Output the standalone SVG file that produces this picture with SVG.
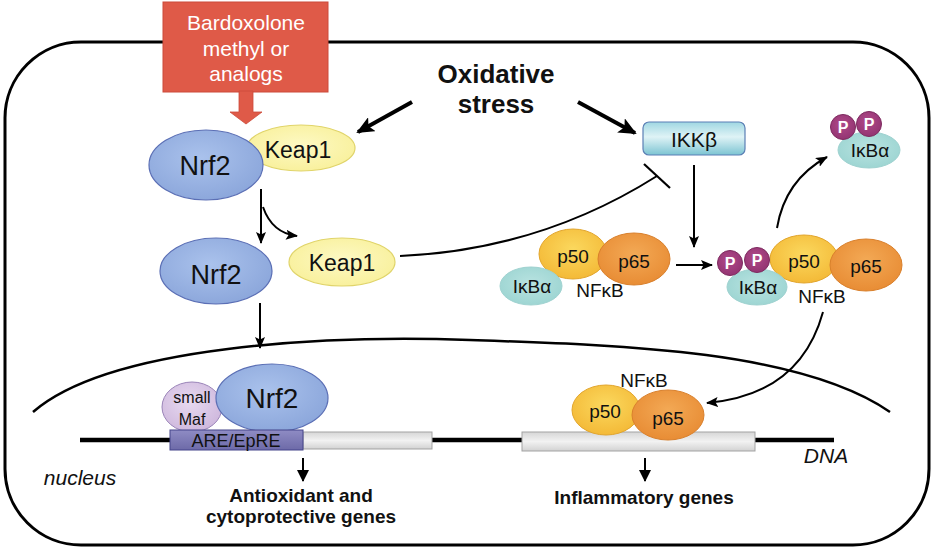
<svg xmlns="http://www.w3.org/2000/svg" width="936" height="550" viewBox="0 0 936 550">
<style>
text{font-family:"Liberation Sans",Arial,Helvetica,sans-serif;fill:#111;text-anchor:middle}
.b{font-weight:bold}
.it{font-style:italic}
.w{fill:#fff}
.ln{fill:none;stroke:#000;stroke-width:2}
.thick{fill:none;stroke:#000;stroke-width:4}
.nrf{fill:url(#gNrf);stroke:#5b6fb5;stroke-width:1.2}
.keap{fill:url(#gKeap);stroke:#e0d46a;stroke-width:1.2}
.p50{fill:url(#gP50);stroke:#e2a52c;stroke-width:1}
.p65{fill:url(#gP65);stroke:#d9802c;stroke-width:1}
.ikb{fill:url(#gIkb);stroke:#9fd2d0;stroke-width:1}
.ph{fill:url(#gPh);stroke:#7d2a5f;stroke-width:1}
.pt{font-weight:bold;font-size:16px;fill:#fff}
</style>
<defs>
<radialGradient id="gNrf" cx="0.45" cy="0.4" r="0.65"><stop offset="0" stop-color="#aac2ec"/><stop offset="1" stop-color="#8aa5da"/></radialGradient>
<radialGradient id="gKeap" cx="0.5" cy="0.45" r="0.65"><stop offset="0" stop-color="#fdf9c4"/><stop offset="1" stop-color="#f8ef96"/></radialGradient>
<radialGradient id="gP50" cx="0.5" cy="0.4" r="0.65"><stop offset="0" stop-color="#fbd85e"/><stop offset="1" stop-color="#f3b734"/></radialGradient>
<radialGradient id="gP65" cx="0.5" cy="0.4" r="0.65"><stop offset="0" stop-color="#f3a955"/><stop offset="1" stop-color="#e78a32"/></radialGradient>
<radialGradient id="gIkb" cx="0.5" cy="0.45" r="0.65"><stop offset="0" stop-color="#b9e3e1"/><stop offset="1" stop-color="#99d3d0"/></radialGradient>
<radialGradient id="gPh" cx="0.45" cy="0.4" r="0.6"><stop offset="0" stop-color="#b04a8a"/><stop offset="1" stop-color="#943472"/></radialGradient>
<radialGradient id="gMaf" cx="0.45" cy="0.4" r="0.65"><stop offset="0" stop-color="#e8daf0"/><stop offset="1" stop-color="#cdb6dc"/></radialGradient>
<linearGradient id="gIkk" x1="0" y1="0" x2="0" y2="1"><stop offset="0" stop-color="#9fd7e2"/><stop offset="0.45" stop-color="#dff3f6"/><stop offset="1" stop-color="#7cc4d2"/></linearGradient>
<linearGradient id="gAre" x1="0" y1="0" x2="0" y2="1"><stop offset="0" stop-color="#8f8cc4"/><stop offset="1" stop-color="#6d6aa8"/></linearGradient>
<linearGradient id="gGray" x1="0" y1="0" x2="0" y2="1"><stop offset="0" stop-color="#d6d6d6"/><stop offset="0.5" stop-color="#f2f2f2"/><stop offset="1" stop-color="#d2d2d2"/></linearGradient>
<marker id="mBig" viewBox="0 0 18 16" markerWidth="18" markerHeight="16" refX="16" refY="8" orient="auto" markerUnits="userSpaceOnUse"><path d="M0,0 L18,8 L0,16 L4,8 z" fill="#000"/></marker>
<marker id="mSm" viewBox="0 0 12 10" markerWidth="12" markerHeight="10" refX="11" refY="5" orient="auto" markerUnits="userSpaceOnUse"><path d="M0,0 L12,5 L0,10 L2.5,5 z" fill="#000"/></marker>
<marker id="mMid" viewBox="0 0 12 12" markerWidth="12" markerHeight="12" refX="11" refY="6" orient="auto" markerUnits="userSpaceOnUse"><path d="M0,0 L12,6 L0,12 z" fill="#000"/></marker>
</defs>

<!-- cell -->
<rect x="5" y="42" width="924" height="503" rx="76" ry="76" fill="none" stroke="#000" stroke-width="3"/>
<!-- nucleus envelope -->
<path d="M33,412 C110,345 330,335 470,340 C620,345 800,350 890,412" fill="none" stroke="#000" stroke-width="2.5"/>
<!-- DNA -->
<line x1="80" y1="440" x2="834" y2="440" stroke="#000" stroke-width="4.5"/>
<rect x="303" y="432" width="129" height="17" fill="url(#gGray)" stroke="#a3a3a3" stroke-width="1"/>
<rect x="522" y="432" width="233" height="19" fill="url(#gGray)" stroke="#a3a3a3" stroke-width="1"/>
<text class="it" x="826" y="463" font-size="21">DNA</text>
<text class="it" x="80" y="485" font-size="21">nucleus</text>

<g id="connectors">
<path class="thick" d="M412,102 L358,132" marker-end="url(#mBig)"/>
<path class="thick" d="M578,102 L635,133" marker-end="url(#mBig)"/>
<path class="ln" d="M261,189 L261,243" marker-end="url(#mSm)"/>
<path class="ln" d="M263,207 Q272,233 297,236" marker-end="url(#mSm)"/>
<path class="ln" d="M400,256 Q540,250 657,176"/>
<line x1="644" y1="164" x2="670" y2="188" stroke="#000" stroke-width="2.2"/>
<path class="ln" d="M694,165 L694,247" marker-end="url(#mSm)"/>
<path class="ln" d="M676,265 L712,265" marker-end="url(#mSm)"/>
<path class="ln" d="M777,228 Q785,180 827,157" marker-end="url(#mSm)"/>
<path class="ln" d="M260,303 L260,348" marker-end="url(#mSm)"/>
<path class="ln" d="M823,312 Q800,395 707,403" marker-end="url(#mSm)"/>
<path class="ln" d="M303,458 L303,481" stroke-width="3" marker-end="url(#mMid)"/>
<path class="ln" d="M645,458 L645,481" stroke-width="3" marker-end="url(#mMid)"/>
</g>

<g id="node-bardoxolone">
<rect x="163" y="2" width="165" height="90" fill="#df5a48" stroke="#cc4a3a" stroke-width="1"/>
<path d="M239,91 L253,91 L253,112 L262,112 L246,124 L230,112 L239,112 z" fill="#df5a48" stroke="#cc4a3a" stroke-width="0.8"/>
<text class="w" x="246" y="30" font-size="21">Bardoxolone</text>
<text class="w" x="246" y="56" font-size="21">methyl or</text>
<text class="w" x="246" y="81" font-size="21">analogs</text>
</g>

<g id="node-oxidative-stress">
<text class="b" x="496" y="83" font-size="26">Oxidative</text>
<text class="b" x="496" y="113" font-size="26">stress</text>
</g>

<g id="node-nrf2-keap1">
<ellipse class="keap" cx="301" cy="148" rx="54" ry="23"/>
<ellipse class="nrf" cx="206" cy="165" rx="57" ry="35"/>
<text x="298" y="158" font-size="23">Keap1</text>
<text x="205" y="175" font-size="27">Nrf2</text>
</g>

<g id="node-nrf2">
<ellipse class="nrf" cx="216" cy="271" rx="56" ry="33"/>
<text x="216" y="284" font-size="27">Nrf2</text>
</g>

<g id="node-keap1">
<ellipse class="keap" cx="342" cy="262" rx="53" ry="24"/>
<text x="342" y="271" font-size="23">Keap1</text>
</g>

<g id="node-ikkb">
<rect x="643" y="122" width="102" height="33" rx="6" fill="url(#gIkk)" stroke="#5b7fb5" stroke-width="1.2"/>
<text x="694" y="147" font-size="21">IKKβ</text>
</g>

<g id="node-nfkb-ikba">
<ellipse class="p50" cx="573" cy="254" rx="34" ry="25"/>
<ellipse class="p65" cx="634" cy="259" rx="36" ry="26"/>
<ellipse class="ikb" cx="531" cy="286" rx="31" ry="19"/>
<text x="573" y="263" font-size="19">p50</text>
<text x="634" y="268" font-size="19">p65</text>
<text x="532" y="293" font-size="19">IκBα</text>
<text x="600" y="297" font-size="19">NFκB</text>
</g>

<g id="node-nfkb-pikba">
<ellipse class="p50" cx="804" cy="259" rx="34" ry="24"/>
<ellipse class="p65" cx="866" cy="265" rx="36" ry="26"/>
<ellipse class="ikb" cx="757" cy="287" rx="30" ry="18"/>
<circle class="ph" cx="730" cy="263" r="12.5"/>
<circle class="ph" cx="757" cy="260" r="12.5"/>
<text class="pt" x="730" y="269">P</text>
<text class="pt" x="757" y="266">P</text>
<text x="804" y="268" font-size="19">p50</text>
<text x="866" y="273" font-size="19">p65</text>
<text x="758" y="294" font-size="19">IκBα</text>
<text x="822" y="303" font-size="19">NFκB</text>
</g>

<g id="node-p-ikba">
<ellipse class="ikb" cx="869" cy="150" rx="31" ry="18"/>
<circle class="ph" cx="843" cy="127" r="12.5"/>
<circle class="ph" cx="869" cy="124" r="12.5"/>
<text class="pt" x="843" y="133">P</text>
<text class="pt" x="869" y="130">P</text>
<text x="870" y="157" font-size="19">IκBα</text>
</g>

<g id="node-are">
<ellipse cx="192" cy="407" rx="30" ry="25" fill="url(#gMaf)" stroke="#9a84b8" stroke-width="1"/>
<ellipse class="nrf" cx="272" cy="398" rx="56" ry="34"/>
<rect x="170" y="430" width="133" height="20" fill="url(#gAre)" stroke="#45458a" stroke-width="1"/>
<text x="192" y="403" font-size="16">small</text>
<text x="192" y="425" font-size="16">Maf</text>
<text x="272" y="408" font-size="28">Nrf2</text>
<text x="236" y="447" font-size="18">ARE/EpRE</text>
</g>

<g id="node-nfkb-dna">
<ellipse class="p50" cx="606" cy="410" rx="34" ry="25"/>
<ellipse class="p65" cx="668" cy="415" rx="36" ry="25"/>
<text x="605" y="418" font-size="19">p50</text>
<text x="668" y="425" font-size="19">p65</text>
<text x="644" y="387" font-size="19">NFκB</text>
</g>

<g id="node-antioxidant">
<text class="b" x="301" y="502" font-size="19">Antioxidant and</text>
<text class="b" x="301" y="523" font-size="19">cytoprotective genes</text>
</g>

<g id="node-inflammatory">
<text class="b" x="644" y="504" font-size="19">Inflammatory genes</text>
</g>
</svg>
